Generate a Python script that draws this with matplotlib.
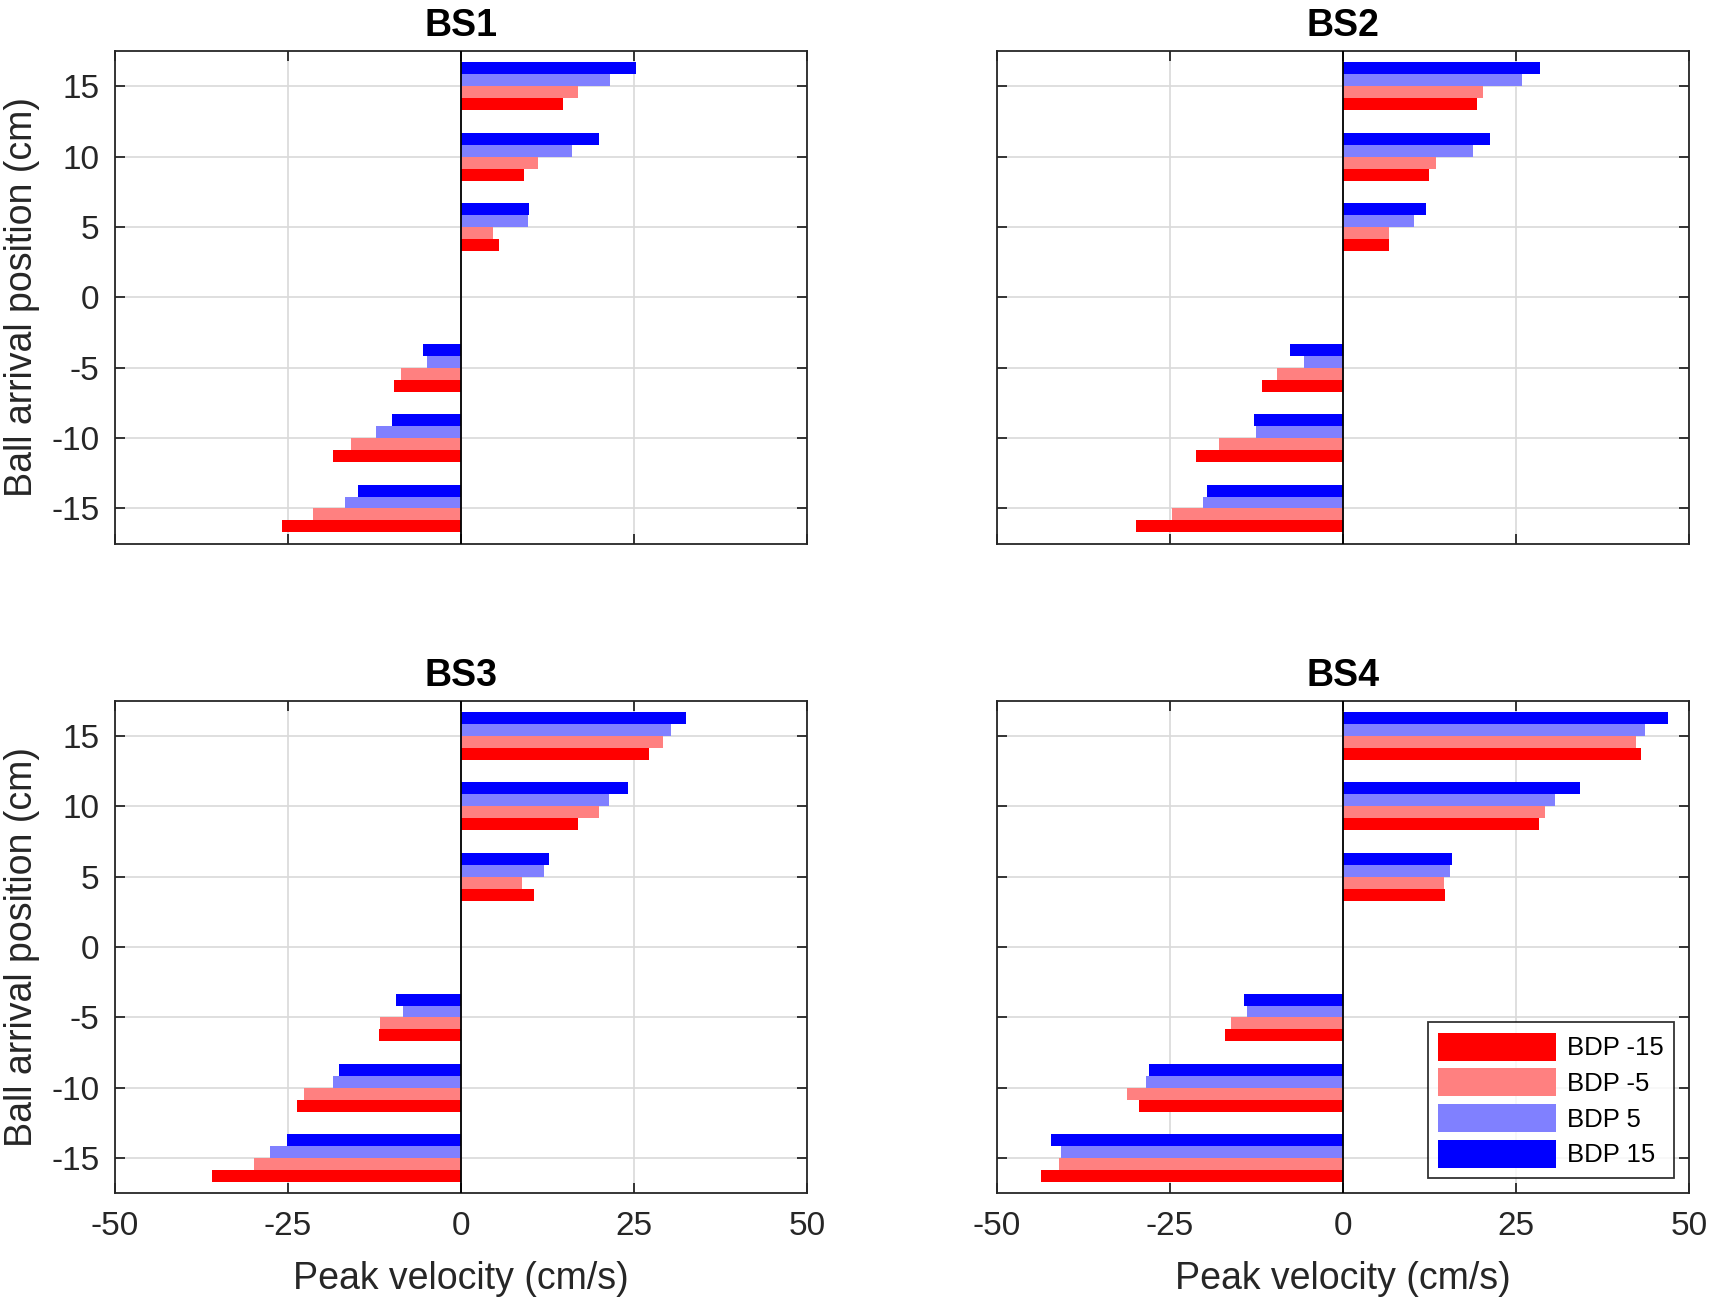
import numpy as np
import matplotlib.pyplot as plt

plt.rcParams['font.family'] = ['Liberation Sans', 'DejaVu Sans']
plt.rcParams['axes.unicode_minus'] = False

# Posiciones de llegada de la pelota (cm)
posiciones = [-15, -10, -5, 5, 10, 15]
series = ['BDP -15', 'BDP -5', 'BDP 5', 'BDP 15']
colores = ['#ff0000', '#ff8080', '#8080ff', '#0000ff']
titulos = ['BS1', 'BS2', 'BS3', 'BS4']

# Velocidad pico (cm/s) por panel, una lista por serie
bs1 = [[-25.8, -18.5, -9.6, 5.5, 9.1, 14.8],
       [-21.4, -15.9, -8.7, 4.7, 11.2, 17.0],
       [-16.7, -12.2, -4.9, 9.7, 16.1, 21.5],
       [-14.8, -9.9, -5.5, 9.9, 20.0, 25.3]]
bs2 = [[-29.9, -21.2, -11.7, 6.7, 12.5, 19.3],
       [-24.7, -17.9, -9.6, 6.6, 13.5, 20.3],
       [-20.3, -12.6, -5.7, 10.3, 18.8, 25.9],
       [-19.7, -12.9, -7.6, 12.0, 21.3, 28.5]]
bs3 = [[-36.0, -23.7, -11.8, 10.6, 17.0, 27.2],
       [-29.9, -22.6, -11.7, 8.9, 20.0, 29.2],
       [-27.6, -18.4, -8.4, 12.0, 21.4, 30.4],
       [-25.1, -17.6, -9.3, 12.7, 24.2, 32.6]]
bs4 = [[-43.7, -29.5, -17.0, 14.7, 28.3, 43.0],
       [-41.1, -31.2, -16.2, 14.6, 29.2, 42.4],
       [-40.7, -28.5, -13.9, 15.4, 30.7, 43.7],
       [-42.2, -28.0, -14.3, 15.7, 34.3, 46.9]]
datos = [bs1, bs2, bs3, bs4]

fig = plt.figure(figsize=(17.13, 13.10), dpi=100)
lefts = [0.067, 0.582, 0.067, 0.582]
bottoms = [0.585, 0.585, 0.089, 0.089]

alto = 0.85
desplaz = [-1.5 * alto, -0.5 * alto, 0.5 * alto, 1.5 * alto]
y = np.array(posiciones, dtype=float)

for i in range(4):
    ax = fig.add_axes([lefts[i], bottoms[i], 0.404, 0.376])
    for j in range(4):
        ax.barh(y + desplaz[j], datos[i][j], height=alto, color=colores[j],
                label=series[j], zorder=3)
    ax.axvline(0, color='black', linewidth=1.3, zorder=4)
    ax.set_xlim(-50, 50)
    ax.set_ylim(-17.5, 17.5)
    ax.set_xticks([-50, -25, 0, 25, 50])
    ax.set_yticks([-15, -10, -5, 0, 5, 10, 15])
    ax.grid(True, color='#d9d9d9', linewidth=1.2, zorder=0)
    ax.tick_params(direction='in', length=7, width=1.3, top=True, right=True,
                   labelsize=24, colors='#262626')
    ax.tick_params(axis='x', pad=13)
    ax.tick_params(axis='y', pad=11)
    for s in ax.spines.values():
        s.set_linewidth(1.3)
        s.set_color('#262626')
    ax.set_title(titulos[i], fontsize=27, fontweight='bold', pad=11)
    if i < 2:
        ax.tick_params(labelbottom=False)
    else:
        ax.set_xlabel('Peak velocity (cm/s)', fontsize=27, color='#262626', labelpad=13)
    if i % 2 == 1:
        ax.tick_params(labelleft=False)
    else:
        ax.set_ylabel('Ball arrival position (cm)', fontsize=27, color='#262626', labelpad=8)
    if i == 3:
        leg = ax.legend(loc='lower right', fontsize=18.5, frameon=True, fancybox=False,
                        edgecolor='black', handlelength=4.6, handleheight=1.3,
                        handletextpad=0.4, borderaxespad=0.6, labelspacing=0.3)
        leg.get_frame().set_linewidth(1.3)

plt.savefig('out.png', dpi=100)
